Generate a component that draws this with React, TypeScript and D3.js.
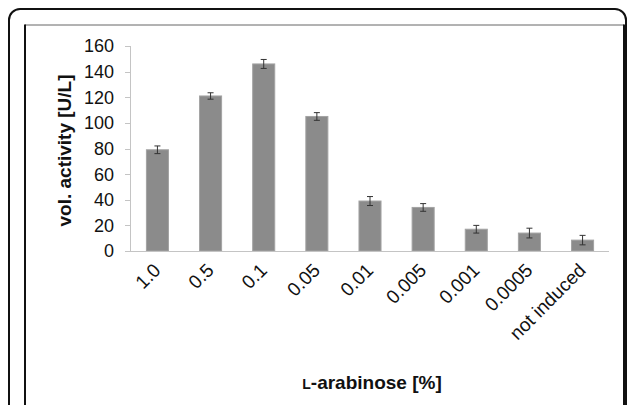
import React from "react";
import * as d3 from "d3";

// L-arabinose concentrations and measured volumetric activity
const categories = ["1.0", "0.5", "0.1", "0.05", "0.01", "0.005", "0.001", "0.0005", "not induced"];
const activity = [79, 121, 146, 105, 39, 34, 17, 14, 8.5];
const errors = [3, 2.5, 3.5, 3, 3.5, 3, 3, 3.8, 3.7];
const yTicks = [0, 20, 40, 60, 80, 100, 120, 140, 160];

const W = 627;
const H = 405;

export default function App() {
    const x = d3.scaleBand<string>().domain(categories).range([131, 609]).paddingInner(0.585).paddingOuter(0.29);
    const y = d3.scaleLinear().domain([0, 160]).range([251, 46]);
    const font = "'Liberation Sans', Arial, sans-serif";

    return (
        <div style={{ position: "fixed", left: 0, top: 0 }}>
            <svg width={W} height={H} style={{ display: "block", background: "#fff" }}>
                {/* outer frame */}
                <rect x={9} y={9} width={617} height={520} rx={11} fill="none" stroke="#111" strokeWidth={2} />
                {/* inner box */}
                <line x1={25} y1={25} x2={624} y2={25} stroke="#666" strokeWidth={1} />
                <line x1={25} y1={24.5} x2={25} y2={H + 5} stroke="#111" strokeWidth={2} />
                <line x1={624} y1={24.5} x2={624} y2={H + 5} stroke="#111" strokeWidth={2} />

                {/* y axis */}
                <line x1={130.5} y1={y(160)} x2={130.5} y2={y(0)} stroke="#c4c4c4" />
                {yTicks.map((t) => (
                    <g key={t}>
                        <line x1={125} x2={130.5} y1={Math.round(y(t)) + 0.5} y2={Math.round(y(t)) + 0.5} stroke="#c4c4c4" />
                        <text x={114} y={y(t)} dy="0.36em" textAnchor="end" fontFamily={font} fontSize={18} fill="#111">
                            {t}
                        </text>
                    </g>
                ))}

                {/* bars */}
                {categories.map((c, i) => (
                    <rect
                        key={c}
                        x={x(c)}
                        y={y(activity[i])}
                        width={x.bandwidth()}
                        height={y(0) - y(activity[i])}
                        fill="#8b8b8b"
                        stroke="#a3a3a3"
                        strokeWidth={1}
                    />
                ))}

                {/* x axis */}
                <line x1={130} x2={609} y1={y(0) + 0.5} y2={y(0) + 0.5} stroke="#c4c4c4" />

                {/* error bars */}
                {categories.map((c, i) => {
                    const cx = (x(c) as number) + x.bandwidth() / 2;
                    const hi = y(activity[i] + errors[i]);
                    const lo = y(activity[i] - errors[i]);
                    return (
                        <g key={c} stroke="#333" strokeWidth={1}>
                            <line x1={cx} x2={cx} y1={hi} y2={lo} />
                            <line x1={cx - 3} x2={cx + 3} y1={hi} y2={hi} />
                            <line x1={cx - 3} x2={cx + 3} y1={lo} y2={lo} />
                        </g>
                    );
                })}

                {/* category labels */}
                {categories.map((c) => {
                    const cx = (x(c) as number) + x.bandwidth() / 2;
                    return (
                        <text
                            key={c}
                            transform={`translate(${cx - 5},${262}) rotate(-45)`}
                            textAnchor="end"
                            dy="0.7em"
                            fontFamily={font}
                            fontSize={19}
                            fill="#111"
                        >
                            {c}
                        </text>
                    );
                })}

                {/* axis titles */}
                <text
                    transform={`translate(71,${(y(0) + y(160)) / 2 + 2}) rotate(-90)`}
                    textAnchor="middle"
                    fontFamily={font}
                    fontSize={19}
                    fontWeight="bold"
                    fill="#111"
                >
                    vol. activity [U/L]
                </text>
                <text x={372} y={389} textAnchor="middle" fontFamily={font} fontSize={19} fontWeight="bold" fill="#111">
                    <tspan fontSize={14}>L</tspan>-arabinose [%]
                </text>
            </svg>
        </div>
    );
}
